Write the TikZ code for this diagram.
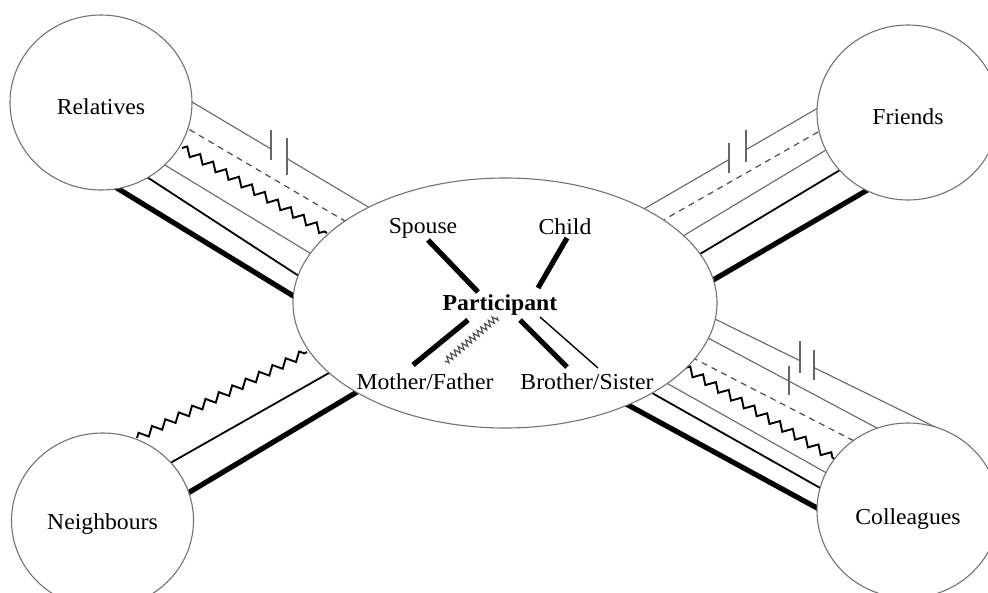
\documentclass[tikz,border=0pt]{standalone}
\usepackage{fontspec}
\setmainfont{Liberation Serif}[FakeStretch=1.04]
\usetikzlibrary{shapes.geometric,decorations.pathmorphing}
\begin{document}
\begin{tikzpicture}[x=1pt,y=-1pt,
  thinln/.style={draw=black!60, line width=1.1pt},
  dashln/.style={draw=black!70, line width=1.2pt, dash pattern=on 6pt off 5pt},
  wavyln/.style={draw=black, line width=1.9pt, decorate, decoration={zigzag, segment length=15pt, amplitude=4pt}},
  smallwavy/.style={draw=black!70, line width=1.1pt, decorate, decoration={zigzag, segment length=5pt, amplitude=3.2pt}},
  medln/.style={draw=black, line width=1.8pt},
  thickln/.style={draw=black, line width=5.2pt},
  tickln/.style={draw=black!60, line width=1.1pt},
  txt/.style={font=\fontsize{22.8}{26}\selectfont},
  group/.style={ellipse, draw=black!55, line width=1.1pt, fill=white, minimum width=182pt, minimum height=175pt, inner sep=0pt, text height=23pt, text depth=0pt, txt},
  lbl/.style={inner sep=0pt, txt}
]
\useasboundingbox (0,0) rectangle (988,592);
% Relatives band
\draw[thinln] (185,97.8) -- (271,149);
\draw[thinln] (287,158.6) -- (378,212.8);
\draw[tickln] (271,130) -- (271,160);
\draw[tickln] (287,138) -- (287,175);
\draw[dashln] (180,124) -- (350,224);
\draw[wavyln] (182,148) -- (327,233);
\draw[thinln] (150,156) -- (318,258);
\draw[medln] (140,172.5) -- (305,280);
\draw[thickln] (112,185) -- (300,300);
% Friends band
\draw[thinln] (636,213.5) -- (729,159.6);
\draw[thinln] (746,149.7) -- (824,104.5);
\draw[tickln] (729,143) -- (729,173);
\draw[tickln] (746,130) -- (746,162);
\draw[dashln] (660,222) -- (824,128.6);
\draw[thinln] (678,239) -- (830,147.6);
\draw[medln] (695,257) -- (850,164);
\draw[thickln] (708,283) -- (870,188.5);
% Colleagues band
\draw[thinln] (710,316.6) -- (800,360.7);
\draw[thinln] (814,367.6) -- (940,429.4);
\draw[tickln] (800,341) -- (800,373);
\draw[tickln] (814,350) -- (814,380);
\draw[thinln] (702,334.8) -- (882,430.7);
\draw[tickln] (789,366) -- (789,395);
\draw[dashln] (692,357.4) -- (858,443);
\draw[wavyln] (685,368) -- (837,460.4);
\draw[thinln] (664,381.6) -- (832,476);
\draw[medln] (646,389.6) -- (828,492.4);
\draw[thickln] (622,401.7) -- (824,511.8);
% Neighbours band
\draw[wavyln] (137,438) -- (307,352);
\draw[medln] (165,466) -- (336,369);
\draw[thickln] (183,496) -- (364,387.8);
% groups
\node[group] (rel) at (101,102.5) {Relatives};
\node[group] (fri) at (908,112.5) {Friends};
\node[group, text height=18pt] (nei) at (102.5,520.5) {Neighbours};
\node[group, text height=27pt] (col) at (908,510.5) {Colleagues};
\node[ellipse, draw=black!55, line width=1.1pt, fill=white, minimum width=424pt, minimum height=250pt, inner sep=0pt] (par) at (505,303) {};
% family
\node[lbl] (sp) at (423,228) {Spouse};
\node[lbl] (ch) at (565,227) {Child};
\node[lbl, font={\fontsize{22.8}{26}\selectfont\bfseries}] (pt) at (500,305) {Participant};
\node[lbl] (mf) at (425,382) {Mother/Father};
\node[lbl] (bs) at (587,382) {Brother/Sister};
\draw[thickln] (428,240) -- (478,292);
\draw[thickln] (567,238) -- (538,288);
\draw[thickln] (468,320) -- (413,365);
\draw[smallwavy] (497,317) -- (445,362);
\draw[thickln] (520,320) -- (567,367);
\draw[draw=black, line width=1.4pt] (540,317) -- (598,368);
\end{tikzpicture}
\end{document}
